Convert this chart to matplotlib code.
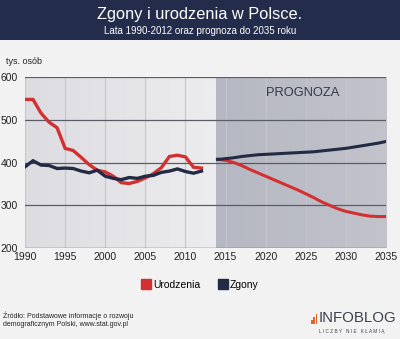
import numpy as np
import matplotlib
matplotlib.use("Agg")
import matplotlib.pyplot as plt
from matplotlib.lines import Line2D
from matplotlib.patches import Rectangle
from matplotlib.colors import LinearSegmentedColormap

plt.rcParams['font.family'] = ['Liberation Sans', 'DejaVu Sans']

# historical data 1990-2012 (tys. osób)
years_hist = list(range(1990, 2013))
births_hist = [547, 547, 515, 494, 481, 433, 428, 412, 395, 382, 378, 368,
               353, 351, 356, 364, 374, 388, 414, 417, 413, 389, 387]
deaths_hist = [390, 404, 394, 393, 386, 387, 386, 380, 376, 382, 368, 363,
               360, 365, 363, 368, 370, 377, 380, 385, 379, 375, 380]

# forecast 2014-2035
years_fc = list(range(2014, 2036))
births_fc = [408, 405, 400, 393, 384, 376, 368, 360, 352, 344, 336, 327,
             318, 308, 300, 292, 286, 282, 278, 275, 274, 274]
deaths_fc = [407, 409, 411, 414, 416, 418, 419, 420, 421, 422, 423, 424,
             425, 427, 429, 431, 433, 436, 439, 442, 445, 449]

xticks = [1990, 1995, 2000, 2005, 2010, 2015, 2020, 2025, 2030, 2035]
yticks = [200, 300, 400, 500, 600]
forecast_start = 2013.8

RED = '#d33131'
NAVY = '#232a44'
BG = '#f2f2f2'

fig = plt.figure(figsize=(4.0, 3.39), dpi=100, facecolor=BG)

# title banner
fig.patches.append(Rectangle((0, 1 - 40 / 339), 1, 40 / 339, transform=fig.transFigure,
                             facecolor='#232d4b', edgecolor='none', zorder=0))
fig.text(0.5, 1 - 14 / 339, 'Zgony i urodzenia w Polsce.', ha='center', va='center',
         color='white', fontsize=11.8)
fig.text(0.5, 1 - 31 / 339, 'Lata 1990-2012 oraz prognoza do 2035 roku', ha='center',
         va='center', color='white', fontsize=7)

ax = fig.add_axes([25 / 400, 1 - 248.3 / 339, 361 / 400, 171.6 / 339])
ax.set_facecolor(BG)

# background shading: historical gradient, forecast darker
grad = np.linspace(0, 1, 100).reshape(1, -1)
cm_hist = LinearSegmentedColormap.from_list('h', ['#dcdce1', '#ededef'])
ax.imshow(grad, extent=[1990, forecast_start, 200, 600], aspect='auto', cmap=cm_hist,
          zorder=0)
cm_fc = LinearSegmentedColormap.from_list('f', ['#b5b7c2', '#c2c3cb'])
ax.imshow(grad, extent=[forecast_start, 2035, 200, 600], aspect='auto', cmap=cm_fc,
          zorder=0)
ax.set_xlim(1990, 2035)
ax.set_ylim(200, 600)

for x in xticks:
    ax.axvline(x, color='#c4c5cd', lw=0.8, zorder=1)
for y in yticks[1:]:
    ax.axhline(y, color='#5a5c66', lw=0.9, zorder=1)
ax.axhline(200, color='#5a5c66', lw=1.0, zorder=1)

ax.plot(years_hist, births_hist, color=RED, lw=2.4, zorder=3, solid_joinstyle='miter')
ax.plot(years_hist, deaths_hist, color=NAVY, lw=2.4, zorder=3, solid_joinstyle='miter')
ax.plot(years_fc, births_fc, color=RED, lw=2.2, zorder=3)
ax.plot(years_fc, deaths_fc, color=NAVY, lw=2.2, zorder=4)

ax.text(2024.6, 562, 'PROGNOZA', ha='center', va='center', fontsize=9.3, color='#333949')

for s in ax.spines.values():
    s.set_visible(False)
ax.set_xticks(xticks)
ax.set_yticks(yticks)
ax.tick_params(length=0, labelsize=7.5, colors='#222222', pad=3)
ax.tick_params(axis='y', pad=5)

fig.text(6 / 400, 1 - 62 / 339, 'tys. osób', fontsize=6.5, va='center', color='#222222')

handles = [Line2D([], [], marker='s', ls='none', color=RED, markersize=6.5),
           Line2D([], [], marker='s', ls='none', color=NAVY, markersize=6.5)]
fig.legend(handles, ['Urodzenia', 'Zgony'], loc='center', bbox_to_anchor=(0.5, 1 - 285 / 339),
           ncol=2, frameon=False, fontsize=7.5, handletextpad=0.2, columnspacing=1.6,
           handlelength=1.0)

fig.text(3 / 400, 1 - 320 / 339,
         'Źródło: Podstawowe informacje o rozwoju\ndemograficznym Polski, www.stat.gov.pl',
         fontsize=5, va='center', color='#222222', linespacing=1.3)

# logo
for i, h in enumerate([4, 7, 10]):
    fig.patches.append(Rectangle(((311 + i * 2.4) / 400, 1 - 324 / 339), 1.5 / 400, h / 339,
                                 transform=fig.transFigure, facecolor='#e2622c',
                                 edgecolor='none'))
fig.text(319 / 400, 1 - 318 / 339, 'INFOBLOG', fontsize=10.8, va='center', color='#3d414f')
fig.text(352 / 400, 1 - 331 / 339, 'L I C Z B Y   N I E   K Ł A M I Ą', fontsize=3.4,
         ha='center', va='center', color='#3d414f')

fig.savefig('out.png', dpi=100, facecolor=BG)
